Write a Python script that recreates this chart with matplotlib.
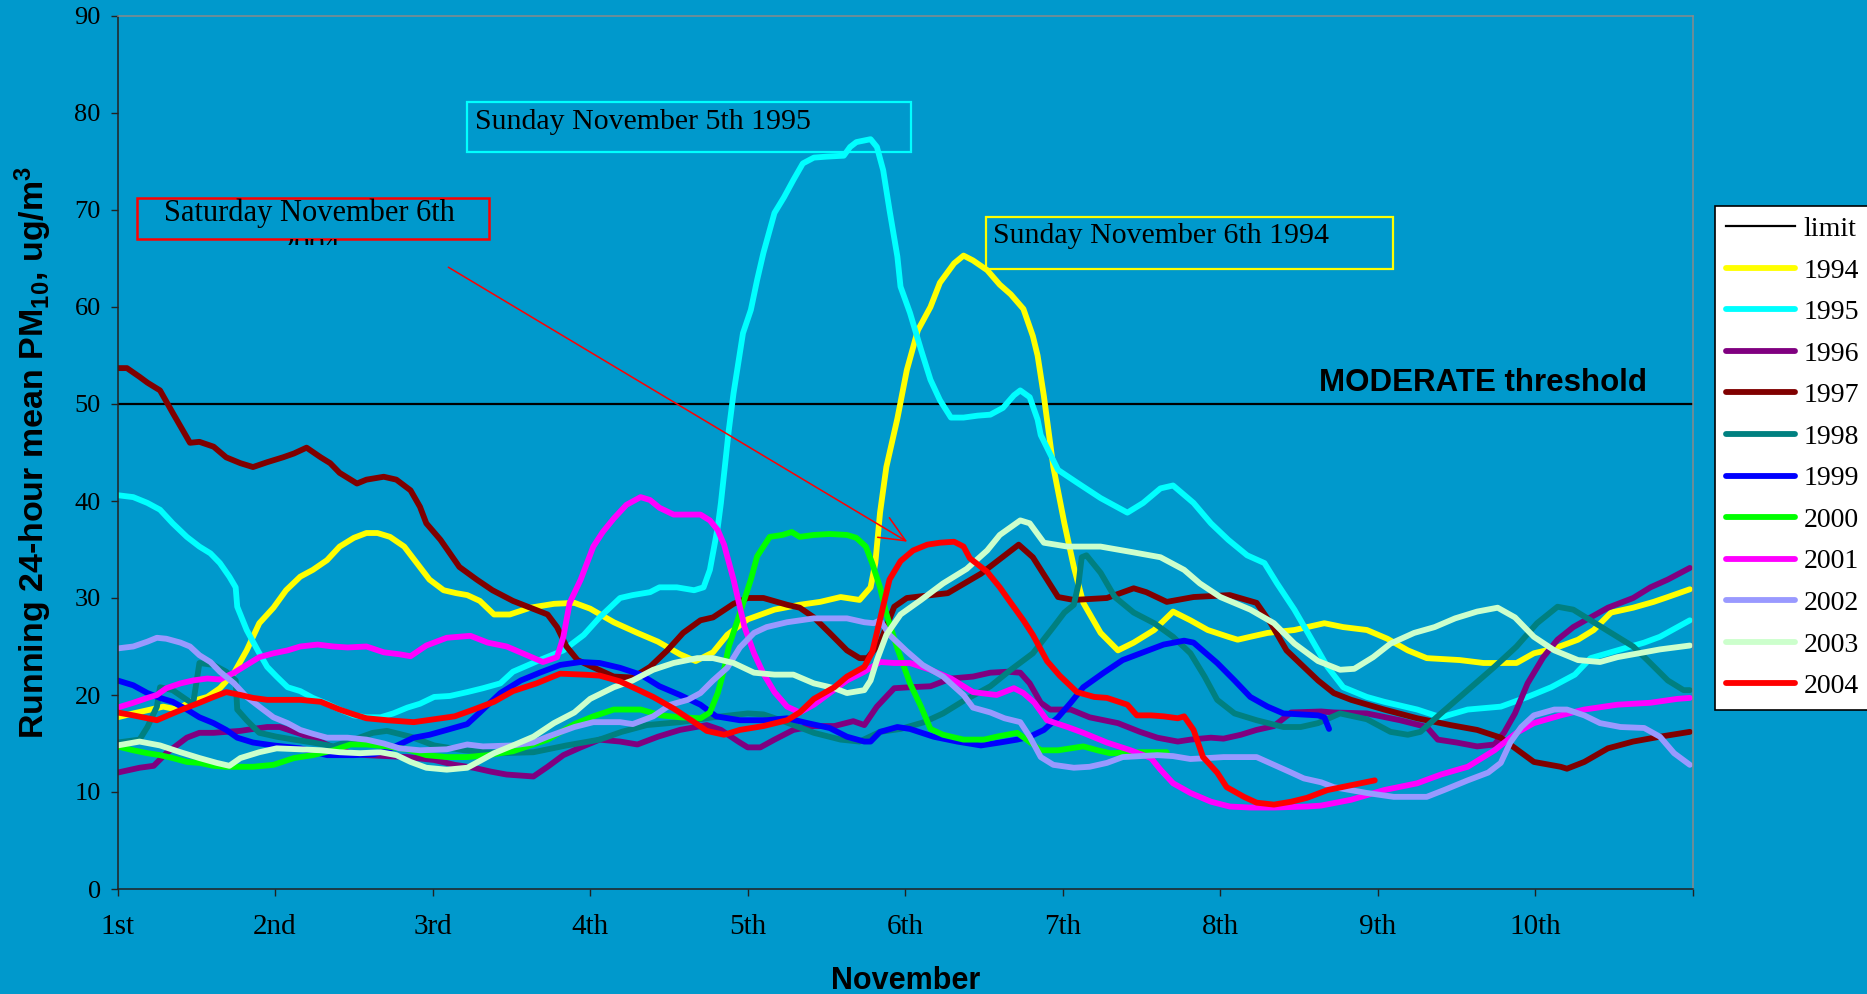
import matplotlib.pyplot as plt
from matplotlib.patches import Rectangle

# running 24-hour mean PM10, first ten days of November (x = day of month)
x1994 = [1.00, 1.10, 1.21, 1.29, 1.38, 1.46, 1.57, 1.65, 1.74, 1.82, 1.90, 1.99, 2.07, 2.16, 2.24, 2.33,
         2.41, 2.50, 2.58, 2.65, 2.73, 2.82, 2.90, 2.98, 3.07, 3.15, 3.22, 3.30, 3.39, 3.49, 3.62, 3.77,
         3.90, 4.00, 4.15, 4.30, 4.43, 4.57, 4.67, 4.78, 4.87, 5.00, 5.17, 5.33, 5.46, 5.59, 5.71, 5.78,
         5.81, 5.84, 5.88, 5.95, 6.01, 6.08, 6.16, 6.22, 6.31, 6.37, 6.43, 6.52, 6.60, 6.67, 6.75, 6.81,
         6.84, 6.88, 6.94, 7.01, 7.07, 7.13, 7.24, 7.35, 7.45, 7.58, 7.70, 7.81, 7.92, 8.05, 8.11, 8.19,
         8.30, 8.47, 8.66, 8.78, 8.93, 9.06, 9.19, 9.31, 9.52, 9.67, 9.88, 9.99, 10.12, 10.27, 10.37,
         10.48, 10.62, 10.75, 10.84, 10.98]
pm1994 = [17.7, 18.1, 18.5, 18.8, 18.5, 19.3, 19.8, 20.7, 22.3, 24.6, 27.4, 29.0, 30.8, 32.2, 32.9, 33.9,
          35.3, 36.2, 36.7, 36.7, 36.3, 35.3, 33.6, 31.9, 30.8, 30.5, 30.3, 29.7, 28.3, 28.3, 29.0, 29.4,
          29.5, 28.9, 27.5, 26.4, 25.5, 24.2, 23.5, 24.4, 26.2, 27.8, 28.8, 29.3, 29.6, 30.1, 29.8, 31.1,
          33.6, 38.8, 43.5, 48.5, 53.5, 57.6, 60.0, 62.5, 64.5, 65.3, 64.8, 63.8, 62.3, 61.3, 59.8, 57.0,
          55.0, 50.8, 43.5, 37.7, 33.2, 29.5, 26.4, 24.6, 25.4, 26.7, 28.6, 27.7, 26.7, 26.0, 25.7, 26.0,
          26.4, 26.7, 27.4, 27.0, 26.7, 25.8, 24.6, 23.8, 23.6, 23.3, 23.3, 24.3, 24.8, 25.7, 26.7,
          28.5, 29.0, 29.6, 30.1, 30.9]

x1995 = [1.00, 1.10, 1.19, 1.27, 1.35, 1.44, 1.52, 1.59, 1.65, 1.71, 1.75, 1.76, 1.82, 1.89, 1.95, 2.01,
         2.08, 2.16, 2.24, 2.33, 2.41, 2.50, 2.58, 2.67, 2.75, 2.84, 2.92, 3.01, 3.11, 3.22, 3.32, 3.43,
         3.51, 3.68, 3.83, 3.96, 4.06, 4.19, 4.27, 4.38, 4.44, 4.55, 4.66, 4.72, 4.76, 4.81, 4.83, 4.88,
         4.91, 4.97, 5.02, 5.06, 5.10, 5.17, 5.23, 5.29, 5.35, 5.42, 5.50, 5.61, 5.65, 5.69, 5.78, 5.82,
         5.86, 5.90, 5.95, 5.97, 6.03, 6.10, 6.16, 6.22, 6.29, 6.37, 6.46, 6.54, 6.62, 6.69, 6.73, 6.79,
         6.84, 6.86, 6.97, 7.09, 7.24, 7.41, 7.51, 7.62, 7.70, 7.83, 7.94, 8.05, 8.17, 8.28, 8.36, 8.47,
         8.57, 8.68, 8.78, 8.93, 9.04, 9.25, 9.40, 9.57, 9.78, 9.95, 10.10, 10.25, 10.35, 10.52, 10.69,
         10.79, 10.98]
pm1995 = [40.6, 40.4, 39.8, 39.1, 37.7, 36.3, 35.3, 34.6, 33.6, 32.2, 31.1, 29.1, 26.7, 24.6, 22.9, 21.9,
          20.8, 20.4, 19.7, 19.1, 18.5, 17.9, 17.7, 17.7, 18.1, 18.7, 19.1, 19.8, 19.9, 20.3, 20.7, 21.2,
          22.4, 23.6, 24.6, 26.2, 28.0, 30.0, 30.3, 30.6, 31.1, 31.1, 30.8, 31.1, 32.9, 37.3, 39.8, 47.3,
          51.1, 57.3, 59.7, 62.8, 65.6, 69.7, 71.3, 73.1, 74.8, 75.4, 75.5, 75.6, 76.5, 77.0, 77.3, 76.5,
          74.1, 70.0, 65.2, 62.1, 59.4, 55.6, 52.5, 50.4, 48.6, 48.6, 48.8, 48.9, 49.6, 50.9, 51.4, 50.7,
          48.4, 46.8, 43.2, 41.9, 40.3, 38.8, 39.8, 41.3, 41.6, 39.8, 37.7, 36.0, 34.4, 33.6, 31.5, 28.8,
          26.0, 22.9, 20.8, 19.8, 19.3, 18.5, 17.7, 18.5, 18.8, 19.8, 20.8, 22.1, 23.8, 24.6, 25.4,
          26.0, 27.7]

x1996 = [1.00, 1.14, 1.23, 1.31, 1.44, 1.52, 1.61, 1.69, 1.78, 1.86, 1.95, 2.03, 2.16, 2.27, 2.37, 2.48,
         2.58, 2.71, 2.84, 3.01, 3.14, 3.26, 3.37, 3.47, 3.64, 3.73, 3.83, 3.94, 4.06, 4.19, 4.30, 4.43,
         4.57, 4.74, 4.83, 4.94, 5.00, 5.08, 5.17, 5.29, 5.42, 5.55, 5.67, 5.74, 5.82, 5.93, 6.03, 6.16,
         6.29, 6.43, 6.54, 6.65, 6.73, 6.79, 6.86, 6.92, 7.05, 7.17, 7.35, 7.49, 7.60, 7.73, 7.81, 7.94,
         8.02, 8.13, 8.23, 8.34, 8.45, 8.64, 8.72, 8.93, 9.14, 9.31, 9.38, 9.50, 9.63, 9.74, 9.80, 9.87,
         9.95, 10.05, 10.14, 10.24, 10.35, 10.46, 10.62, 10.73, 10.84, 10.98]
pm1996 = [12.0, 12.5, 12.7, 14.0, 15.6, 16.1, 16.1, 16.2, 16.3, 16.5, 16.7, 16.7, 16.0, 15.3, 14.6, 14.0,
          13.8, 13.7, 13.6, 13.3, 12.8, 12.5, 12.1, 11.8, 11.6, 12.6, 13.8, 14.6, 15.4, 15.2, 14.9, 15.7,
          16.4, 16.9, 16.4, 15.2, 14.6, 14.6, 15.4, 16.4, 16.8, 16.8, 17.3, 16.9, 18.8, 20.7, 20.8, 20.9,
          21.7, 21.9, 22.3, 22.4, 22.3, 21.2, 19.2, 18.5, 18.5, 17.7, 17.1, 16.2, 15.6, 15.2, 15.4, 15.6,
          15.5, 15.9, 16.4, 16.8, 18.2, 18.3, 18.2, 18.1, 17.4, 16.7, 15.4, 15.1, 14.7, 14.9, 16.1, 18.1,
          21.2, 23.9, 25.7, 27.0, 28.0, 29.0, 30.0, 31.1, 31.9, 33.1]

x1997 = [1.00, 1.06, 1.14, 1.19, 1.27, 1.35, 1.46, 1.52, 1.61, 1.69, 1.78, 1.86, 1.95, 2.05, 2.12, 2.20,
         2.29, 2.35, 2.41, 2.52, 2.58, 2.69, 2.77, 2.86, 2.92, 2.96, 3.05, 3.17, 3.28, 3.38, 3.51, 3.73,
         3.79, 3.85, 3.92, 4.00, 4.15, 4.27, 4.38, 4.49, 4.59, 4.70, 4.78, 4.91, 5.00, 5.10, 5.25, 5.33,
         5.42, 5.52, 5.63, 5.71, 5.76, 5.84, 5.93, 6.01, 6.27, 6.48, 6.72, 6.81, 6.97, 7.07, 7.28, 7.45,
         7.53, 7.66, 7.83, 8.06, 8.23, 8.32, 8.42, 8.51, 8.62, 8.72, 8.83, 9.04, 9.25, 9.46, 9.63, 9.78,
         9.99, 10.16, 10.20, 10.31, 10.46, 10.62, 10.79, 10.98]
pm1997 = [53.7, 53.7, 52.8, 52.2, 51.4, 49.1, 46.0, 46.1, 45.6, 44.5, 43.9, 43.5, 44.0, 44.5, 44.9, 45.5,
          44.5, 43.9, 42.9, 41.8, 42.2, 42.5, 42.2, 41.1, 39.4, 37.7, 36.0, 33.2, 31.9, 30.8, 29.7, 28.3,
          27.0, 25.0, 23.6, 23.0, 21.9, 21.8, 22.9, 24.6, 26.4, 27.7, 28.0, 29.4, 30.0, 30.0, 29.3, 29.0,
          28.0, 26.4, 24.6, 23.8, 23.8, 25.4, 29.1, 30.0, 30.5, 32.5, 35.5, 34.2, 30.1, 29.8, 30.0, 31.0,
          30.6, 29.6, 30.1, 30.3, 29.5, 27.4, 24.6, 23.2, 21.5, 20.2, 19.5, 18.5, 17.6, 16.9, 16.4, 15.6,
          13.1, 12.6, 12.4, 13.1, 14.5, 15.2, 15.7, 16.2]

x1998 = [1.00, 1.14, 1.19, 1.25, 1.27, 1.35, 1.44, 1.48, 1.52, 1.61, 1.69, 1.75, 1.76, 1.82, 1.90, 2.01,
         2.12, 2.24, 2.37, 2.50, 2.62, 2.71, 2.86, 3.01, 3.20, 3.43, 3.64, 3.85, 4.06, 4.20, 4.36, 4.57,
         4.78, 5.00, 5.10, 5.21, 5.42, 5.59, 5.71, 5.84, 5.97, 6.12, 6.24, 6.37, 6.54, 6.67, 6.81, 6.94,
         7.01, 7.07, 7.10, 7.12, 7.15, 7.24, 7.33, 7.45, 7.58, 7.70, 7.81, 7.90, 7.98, 8.09, 8.23, 8.40,
         8.51, 8.62, 8.76, 8.93, 9.08, 9.19, 9.27, 9.40, 9.57, 9.74, 9.88, 10.01, 10.14, 10.24, 10.35,
         10.48, 10.62, 10.71, 10.84, 10.94, 10.98]
pm1998 = [15.1, 15.4, 16.7, 18.8, 20.8, 20.5, 19.5, 19.1, 23.3, 23.1, 22.4, 21.5, 18.5, 17.4, 16.1, 15.7,
          15.4, 15.1, 14.7, 15.4, 16.1, 16.3, 15.7, 14.8, 14.3, 14.0, 14.1, 14.8, 15.4, 16.2, 16.9, 17.2,
          17.7, 18.1, 18.0, 17.4, 16.1, 15.4, 15.2, 16.2, 16.5, 17.2, 18.1, 19.4, 20.9, 22.6, 24.3, 27.0,
          28.5, 29.3, 31.5, 34.2, 34.4, 32.6, 30.1, 28.5, 27.4, 26.0, 24.3, 21.9, 19.5, 18.1, 17.4, 16.7,
          16.7, 17.1, 18.1, 17.5, 16.2, 15.9, 16.2, 18.1, 20.5, 22.9, 25.0, 27.4, 29.1, 28.8, 27.7,
          26.4, 25.0, 23.6, 21.5, 20.5, 20.5]

x1999 = [1.00, 1.10, 1.19, 1.27, 1.35, 1.44, 1.52, 1.61, 1.69, 1.76, 1.86, 1.99, 2.16, 2.33, 2.50, 2.63,
         2.75, 2.88, 2.98, 3.09, 3.22, 3.30, 3.43, 3.56, 3.68, 3.81, 3.94, 4.06, 4.19, 4.32, 4.44, 4.57,
         4.70, 4.80, 4.95, 5.12, 5.25, 5.38, 5.52, 5.63, 5.74, 5.78, 5.84, 5.95, 6.03, 6.18, 6.33, 6.48,
         6.60, 6.71, 6.79, 6.88, 6.97, 7.05, 7.13, 7.26, 7.38, 7.51, 7.64, 7.77, 7.83, 7.98, 8.09, 8.19,
         8.30, 8.40, 8.62, 8.66, 8.69]
pm1999 = [21.5, 21.0, 20.2, 19.7, 19.3, 18.5, 17.7, 17.1, 16.4, 15.6, 15.1, 14.8, 14.5, 13.8, 13.8, 13.9,
          14.6, 15.6, 15.9, 16.4, 17.0, 18.2, 20.2, 21.5, 22.3, 23.1, 23.4, 23.3, 22.8, 22.1, 20.9, 20.0,
          19.0, 17.8, 17.4, 17.4, 17.6, 17.1, 16.6, 15.7, 15.2, 15.2, 16.2, 16.7, 16.5, 15.7, 15.2, 14.8,
          15.1, 15.4, 15.7, 16.4, 17.7, 19.2, 20.8, 22.3, 23.6, 24.4, 25.2, 25.6, 25.4, 23.3, 21.5, 19.8,
          18.8, 18.1, 17.9, 17.7, 16.5]

x2000 = [1.00, 1.10, 1.19, 1.27, 1.35, 1.44, 1.52, 1.61, 1.69, 1.78, 1.86, 1.99, 2.12, 2.24, 2.37, 2.48,
         2.58, 2.71, 2.84, 2.96, 3.09, 3.22, 3.35, 3.51, 3.73, 3.90, 4.02, 4.15, 4.32, 4.45, 4.57, 4.70,
         4.76, 4.81, 4.85, 4.88, 4.95, 5.02, 5.06, 5.14, 5.22, 5.28, 5.33, 5.42, 5.52, 5.63, 5.69, 5.75,
         5.79, 5.84, 5.88, 5.95, 6.03, 6.10, 6.16, 6.24, 6.37, 6.50, 6.58, 6.71, 6.77, 6.86, 6.97, 7.13,
         7.22, 7.30, 7.49, 7.66]
pm2000 = [14.7, 14.3, 14.0, 13.8, 13.5, 13.1, 13.0, 12.7, 12.6, 12.6, 12.6, 12.8, 13.5, 13.8, 14.3, 14.9,
          14.9, 14.7, 14.4, 13.8, 13.6, 13.6, 13.8, 14.2, 15.4, 17.0, 17.8, 18.5, 18.5, 17.9, 17.7, 17.6,
          18.2, 20.2, 22.6, 25.0, 28.4, 31.9, 34.3, 36.3, 36.5, 36.8, 36.3, 36.5, 36.6, 36.5, 36.2, 35.3,
          33.6, 31.1, 28.4, 24.8, 21.2, 18.8, 16.5, 15.9, 15.4, 15.4, 15.7, 16.1, 15.4, 14.3, 14.3, 14.7,
          14.3, 14.0, 14.1, 14.1]

x2001 = [1.00, 1.10, 1.19, 1.25, 1.31, 1.40, 1.48, 1.57, 1.65, 1.74, 1.82, 1.90, 1.99, 2.08, 2.16, 2.27,
         2.37, 2.46, 2.58, 2.69, 2.79, 2.86, 2.96, 3.09, 3.24, 3.35, 3.47, 3.60, 3.70, 3.79, 3.83, 3.87,
         3.94, 4.02, 4.08, 4.15, 4.23, 4.32, 4.38, 4.44, 4.53, 4.70, 4.76, 4.81, 4.85, 4.91, 4.98, 5.04,
         5.10, 5.17, 5.25, 5.33, 5.42, 5.52, 5.63, 5.74, 5.84, 5.93, 6.03, 6.16, 6.29, 6.43, 6.58, 6.69,
         6.75, 6.82, 6.90, 7.03, 7.13, 7.28, 7.43, 7.56, 7.62, 7.70, 7.81, 7.94, 8.06, 8.19, 8.34, 8.55,
         8.64, 8.83, 9.04, 9.25, 9.40, 9.57, 9.74, 9.88, 9.99, 10.16, 10.31, 10.52, 10.73, 10.90, 10.98]
pm2001 = [18.7, 19.2, 19.7, 20.0, 20.7, 21.2, 21.5, 21.7, 21.6, 22.3, 23.1, 23.9, 24.3, 24.6, 25.0, 25.2,
          25.0, 24.9, 25.0, 24.4, 24.2, 24.0, 25.1, 25.9, 26.1, 25.4, 25.0, 24.1, 23.4, 23.9, 26.0, 29.5,
          31.9, 35.3, 36.8, 38.2, 39.6, 40.4, 40.1, 39.3, 38.6, 38.6, 38.0, 37.0, 35.5, 31.9, 27.0, 24.3,
          22.2, 20.3, 18.8, 18.2, 19.0, 20.2, 21.5, 22.4, 23.4, 23.3, 23.3, 22.6, 21.7, 20.3, 20.0, 20.7,
          20.2, 19.2, 17.4, 16.7, 16.1, 15.1, 14.3, 13.5, 12.3, 10.9, 9.9, 9.0, 8.5, 8.4, 8.4, 8.5,
          8.6, 9.2, 10.2, 10.9, 11.8, 12.6, 14.3, 16.1, 17.1, 17.9, 18.5, 19.0, 19.2, 19.6, 19.7]

x2002 = [1.00, 1.10, 1.19, 1.25, 1.31, 1.40, 1.46, 1.52, 1.59, 1.65, 1.74, 1.82, 1.90, 1.99, 2.08, 2.16,
         2.24, 2.33, 2.46, 2.58, 2.69, 2.79, 2.92, 3.09, 3.22, 3.32, 3.51, 3.64, 3.73, 3.90, 4.02, 4.19,
         4.27, 4.40, 4.51, 4.62, 4.70, 4.78, 4.87, 4.95, 5.04, 5.12, 5.25, 5.42, 5.63, 5.74, 5.80, 5.84,
         5.90, 6.01, 6.11, 6.24, 6.37, 6.43, 6.54, 6.63, 6.73, 6.79, 6.86, 6.94, 7.07, 7.17, 7.28, 7.38,
         7.60, 7.70, 7.81, 7.92, 8.02, 8.23, 8.34, 8.45, 8.53, 8.64, 8.72, 8.93, 9.10, 9.31, 9.42, 9.57,
         9.70, 9.78, 9.84, 9.91, 9.99, 10.12, 10.20, 10.31, 10.41, 10.54, 10.69, 10.79, 10.88, 10.98]
pm2002 = [24.8, 25.0, 25.5, 25.9, 25.8, 25.4, 25.0, 24.1, 23.4, 22.4, 21.2, 19.8, 18.8, 17.7, 17.1, 16.4,
          16.0, 15.6, 15.6, 15.4, 15.0, 14.5, 14.3, 14.4, 14.9, 14.7, 14.8, 15.1, 15.7, 16.7, 17.2, 17.2,
          17.0, 17.8, 19.0, 19.5, 20.2, 21.5, 22.8, 24.9, 26.4, 27.0, 27.5, 27.9, 27.9, 27.5, 27.4, 27.7,
          26.2, 24.5, 23.1, 21.9, 20.0, 18.7, 18.2, 17.6, 17.2, 15.7, 13.6, 12.8, 12.5, 12.6, 13.0, 13.6,
          13.8, 13.7, 13.4, 13.5, 13.6, 13.6, 12.8, 12.0, 11.4, 11.0, 10.5, 9.9, 9.5, 9.5, 10.2, 11.2,
          12.0, 13.0, 15.1, 16.7, 17.9, 18.5, 18.5, 17.9, 17.1, 16.7, 16.6, 15.7, 14.0, 12.8]

x2003 = [1.00, 1.14, 1.27, 1.40, 1.52, 1.63, 1.71, 1.78, 1.90, 2.01, 2.16, 2.29, 2.41, 2.54, 2.67, 2.77,
         2.86, 2.96, 3.09, 3.22, 3.30, 3.39, 3.51, 3.64, 3.77, 3.90, 4.00, 4.15, 4.27, 4.40, 4.53, 4.68,
         4.78, 4.91, 5.04, 5.17, 5.29, 5.42, 5.55, 5.63, 5.74, 5.78, 5.82, 5.88, 5.97, 6.10, 6.24, 6.39,
         6.52, 6.60, 6.73, 6.79, 6.88, 7.03, 7.24, 7.45, 7.62, 7.77, 7.87, 8.00, 8.19, 8.34, 8.47, 8.62,
         8.76, 8.85, 8.97, 9.08, 9.23, 9.36, 9.49, 9.63, 9.76, 9.87, 9.99, 10.12, 10.27, 10.41, 10.52,
         10.69, 10.79, 10.98]
pm2003 = [14.8, 15.2, 14.8, 14.1, 13.5, 13.0, 12.7, 13.5, 14.1, 14.5, 14.4, 14.3, 14.1, 14.0, 14.1, 13.8,
          13.1, 12.5, 12.3, 12.5, 13.2, 14.0, 14.8, 15.7, 17.1, 18.2, 19.6, 20.8, 21.5, 22.6, 23.3, 23.8,
          23.8, 23.3, 22.3, 22.1, 22.1, 21.2, 20.7, 20.2, 20.5, 21.5, 23.6, 26.2, 28.3, 29.8, 31.5, 33.0,
          34.9, 36.5, 38.0, 37.7, 35.7, 35.3, 35.3, 34.7, 34.2, 32.9, 31.5, 30.1, 28.8, 27.4, 25.3, 23.5,
          22.6, 22.7, 23.9, 25.3, 26.4, 27.0, 27.9, 28.6, 29.0, 28.0, 26.0, 24.6, 23.6, 23.4, 23.9,
          24.4, 24.7, 25.1]

x2004 = [1.00, 1.10, 1.19, 1.25, 1.35, 1.44, 1.52, 1.61, 1.69, 1.78, 1.86, 1.95, 2.16, 2.29, 2.41, 2.50,
         2.58, 2.71, 2.88, 3.01, 3.14, 3.26, 3.39, 3.51, 3.66, 3.81, 3.96, 4.06, 4.19, 4.27, 4.40, 4.53,
         4.66, 4.74, 4.85, 4.95, 5.10, 5.25, 5.33, 5.42, 5.55, 5.63, 5.74, 5.79, 5.84, 5.90, 5.97, 6.05,
         6.14, 6.22, 6.31, 6.37, 6.41, 6.52, 6.60, 6.67, 6.75, 6.81, 6.90, 6.98, 7.09, 7.20, 7.28, 7.41,
         7.47, 7.56, 7.64, 7.73, 7.77, 7.83, 7.89, 7.98, 8.04, 8.15, 8.23, 8.34, 8.45, 8.55, 8.68, 8.83,
         8.98]
pm2004 = [18.2, 17.9, 17.6, 17.4, 18.1, 18.7, 19.2, 19.8, 20.3, 20.0, 19.7, 19.5, 19.5, 19.3, 18.5, 18.0,
          17.6, 17.4, 17.2, 17.5, 17.8, 18.5, 19.3, 20.4, 21.2, 22.2, 22.1, 22.0, 21.4, 20.8, 19.8, 18.6,
          17.2, 16.3, 15.9, 16.4, 16.8, 17.4, 18.2, 19.6, 20.8, 21.9, 22.9, 24.4, 27.8, 31.9, 33.8, 34.9,
          35.5, 35.7, 35.8, 35.3, 34.1, 32.7, 31.1, 29.5, 27.7, 26.2, 23.5, 22.0, 20.3, 19.8, 19.7, 19.0,
          17.9, 17.9, 17.8, 17.6, 17.8, 16.4, 13.6, 12.0, 10.5, 9.5, 8.9, 8.7, 9.0, 9.4, 10.2, 10.7,
          11.2]

limit_x = [1, 11]
limit_y = [50, 50]

years = ['1994', '1995', '1996', '1997', '1998', '1999', '2000', '2001', '2002', '2003', '2004']
colors = ['#FFFF00', '#00FFFF', '#800080', '#800000', '#008080', '#0000FF',
          '#00FF00', '#FF00FF', '#9999FF', '#CCFFCC', '#FF0000']
tick_labels = ['1st', '2nd', '3rd', '4th', '5th', '6th', '7th', '8th', '9th', '10th', '']

series = [(x1994, pm1994), (x1995, pm1995), (x1996, pm1996), (x1997, pm1997),
          (x1998, pm1998), (x1999, pm1999), (x2000, pm2000), (x2001, pm2001),
          (x2002, pm2002), (x2003, pm2003), (x2004, pm2004)]

BG = '#0099CC'
SERIF = 'Liberation Serif'
SANS = 'Liberation Sans'
plt.rcParams['mathtext.default'] = 'regular'

fig = plt.figure(figsize=(18.67, 9.94), dpi=100, facecolor=BG)
ax = fig.add_axes([117.5 / 1867, 1 - 889 / 994, 1575.5 / 1867, 873 / 994])
ax.set_facecolor(BG)

ax.plot(limit_x, limit_y, color='black', lw=1.6, label='limit')
for yr, c, (xs, ys) in zip(years, colors, series):
    ax.plot(xs, ys, color=c, lw=4.2, label=yr,
            solid_joinstyle='round', solid_capstyle='round')

ax.set_xlim(1, 11)
ax.set_ylim(0, 90)
ax.set_xticks(range(1, 12))
ax.set_xticklabels(tick_labels)
ax.set_yticks(range(0, 91, 10))
ax.tick_params(axis='both', direction='out', length=5, width=1, color='#222222')
ax.tick_params(axis='x', labelsize=21, pad=13, labelfontfamily=SERIF)
ax.tick_params(axis='y', labelsize=19, pad=7, labelfontfamily=SERIF)

for side in ['left', 'bottom']:
    ax.spines[side].set_color('#222222')
    ax.spines[side].set_linewidth(1.1)
for side in ['top', 'right']:
    ax.spines[side].set_color('#8a8a8a')
    ax.spines[side].set_linewidth(1.1)

ax.set_ylabel('Running 24-hour mean PM$_{10}$, ug/m$^{3}$', fontsize=24.5,
              fontweight='bold', family=SANS)
ax.yaxis.set_label_coords(-0.040, 0.5)
ax.set_xlabel('November', fontsize=22, fontweight='bold', family=SANS)
ax.xaxis.set_label_coords(0.5, -0.088)

ax.text(10.71, 52.2, 'MODERATE threshold', ha='right', va='center',
        fontsize=22.5, fontweight='bold', family=SANS)

# annotation boxes
ax.add_patch(Rectangle((3.219, 75.98), 2.819, 5.15, fill=False, edgecolor='#00FFFF', lw=1.6))
ax.text(3.27, 79.1, 'Sunday November 5th 1995', ha='left', va='center', fontsize=21.5, family=SERIF)

ax.add_patch(Rectangle((6.514, 63.92), 2.584, 5.36, fill=False, edgecolor='#FFFF00', lw=1.6))
ax.text(6.56, 67.3, 'Sunday November 6th 1994', ha='left', va='center', fontsize=21.5, family=SERIF)

ax.add_patch(Rectangle((1.124, 67.01), 2.235, 4.23, fill=False, edgecolor='#FF0000', lw=1.8))
ax.text(2.22, 69.7, 'Saturday November 6th', ha='center', va='center', fontsize=22, family=SERIF)
# second line of the red box only peeks out below the frame
t = ax.text(2.22, 67.75, '2004', ha='center', va='top', fontsize=22, family=SERIF, clip_on=True)
t.set_clip_path(Rectangle((1.5, 66.35), 1.5, 0.62, transform=ax.transData))

ax.annotate('', xy=(6.013, 35.8), xytext=(3.10, 64.1),
            arrowprops=dict(arrowstyle='->,head_length=0.93,head_width=0.41', color='red',
                            lw=1.1, mutation_scale=20, shrinkA=0, shrinkB=0))

handles, labels = ax.get_legend_handles_labels()
leg = fig.legend(handles, labels, loc='upper left', bbox_to_anchor=(1715 / 1867, 1 - 206 / 994),
                 bbox_transform=fig.transFigure, prop={'family': SERIF, 'size': 20},
                 fancybox=False, framealpha=1, facecolor='white', edgecolor='black',
                 borderpad=0.38, labelspacing=0.58, handlelength=2.5, handletextpad=0.3,
                 borderaxespad=0)
leg.get_frame().set_linewidth(1.2)

fig.savefig('out.png', dpi=100, facecolor=BG)
